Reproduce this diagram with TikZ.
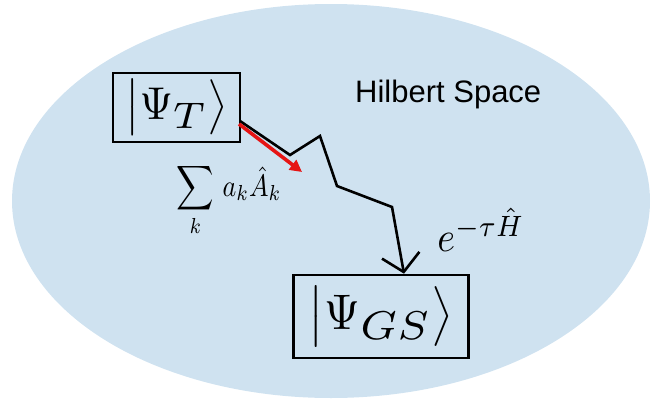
\documentclass[tikz,border=0pt]{standalone}
\usepackage{fontspec}
\newfontfamily\hfont{Liberation Sans}
\usetikzlibrary{arrows.meta,calc}
\definecolor{space}{RGB}{207,226,240}
\definecolor{arrowred}{RGB}{230,20,20}
\newcommand{\subbig}[1]{\scalebox{1.3}[1.15]{$\scriptstyle #1$}}
\begin{document}
\begin{tikzpicture}[x=1pt,y=-1pt,
  state/.style={draw=black, line width=2.6pt, inner sep=0pt},
  zig/.style={draw=black, line width=2.6pt, line join=miter},
  lbl/.style={inner sep=0pt}]
\useasboundingbox (0,0) rectangle (665,402);
\fill[space] (331,201) ellipse [x radius=319, y radius=197];
\node[state, minimum width=127pt, minimum height=69pt] (t) at (176.5,107.5)
  {\scalebox{4.3}[4.6]{$\bigl|\Psi_{\subbig{T}}\bigr\rangle$}};
\node[state, minimum width=175pt, minimum height=83pt] (gs) at (381,316.5)
  {\scalebox{4.6}[5.0]{$\bigl|\Psi_{\subbig{GS}}\bigr\rangle$}};
\coordinate (p0) at (240,121);
\coordinate (p1) at (290,155);
\coordinate (p2) at (320,136);
\coordinate (p3) at (337,186);
\coordinate (p4) at (392,207);
\coordinate (rt) at (302,172);
\draw[zig, -{Straight Barb[length=17pt,width=38pt,line width=2.6pt]}]
  (p0) -- (p1) -- (p2) -- (p3) -- (p4) -- (gs.north -| 404,0);
\draw[arrowred, line width=3.6pt, -{Triangle[length=12pt,width=12pt]}]
  ($(p0)+(-1,3)$) -- (rt);
\node[lbl, anchor=base west, font=\hfont\fontsize{31}{36}\selectfont] (hs) at (355,102)
  {Hilbert Space};
\node[lbl] (sum) at (229,200)
  {\scalebox{2.6}[3.1]{$\displaystyle\sum_k\, a_k\hat{A}_k$}};
\node[lbl] (eh) at (481,230)
  {\scalebox{3.8}[4.2]{$e^{-\tau\hat{H}}$}};
\end{tikzpicture}
\end{document}
